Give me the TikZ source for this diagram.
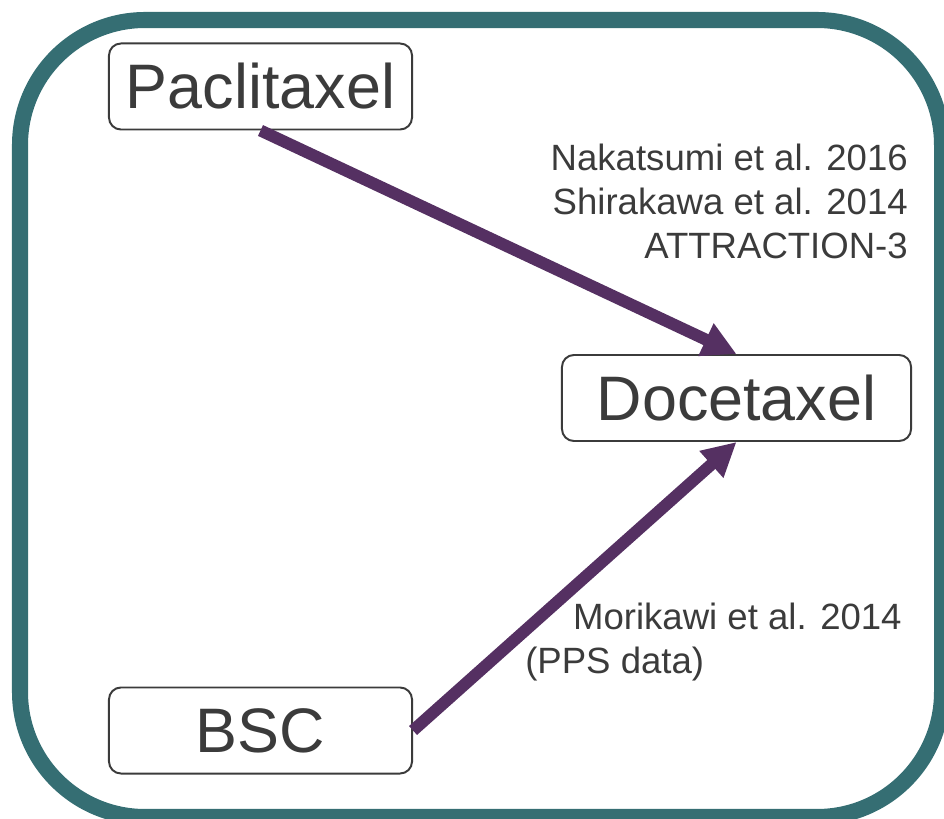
\documentclass[tikz,border=0pt]{standalone}
\usepackage{fontspec}
\setmainfont{Liberation Sans}
\usepackage{tikz}
\usetikzlibrary{arrows.meta}
\definecolor{frameteal}{HTML}{356E73}
\definecolor{arrowpurple}{HTML}{553062}
\definecolor{textgray}{HTML}{3B3B3B}

\begin{document}
\begin{tikzpicture}[x=0.025cm,y=-0.025cm,
		drug/.style={draw=textgray,line width=1.4pt,rounded corners=0.3cm,text=textgray,
			font=\fontsize{44.7}{53}\selectfont,minimum width=7.575cm,minimum height=2.15cm,inner sep=0pt},
		ref/.style={text=textgray,font=\fontsize{26}{31.3}\selectfont,inner sep=0pt},
		link/.style={arrowpurple,line width=8.5pt,-{Triangle[length=24pt,width=24pt]}}]
		\useasboundingbox (0,0) rectangle (944,819);
		\draw[frameteal,line width=11.4pt,rounded corners=3.125cm] (20,20) rectangle (942,817);
		\node[drug] (pac) at (260.5,86.5) {Paclitaxel};
		\node[drug,minimum width=8.725cm] (doc) at (736.5,398) {Docetaxel};
		\node[drug] (bsc) at (260.5,730.5) {BSC};
		\draw[link] (pac.south) -- (doc.north);
		\draw[link] (bsc.east) -- (doc.south);
		\node[ref,align=right,anchor=north east] (evid1) at (908,144) {Nakatsumi et al. 2016\\Shirakawa et al. 2014\\ATTRACTION-3};
		\node[ref,align=left,anchor=north west] (evid2) at (525,603) {\hspace*{34pt}Morikawi et al. 2014\\(PPS data)};
	\end{tikzpicture}
\end{document}
